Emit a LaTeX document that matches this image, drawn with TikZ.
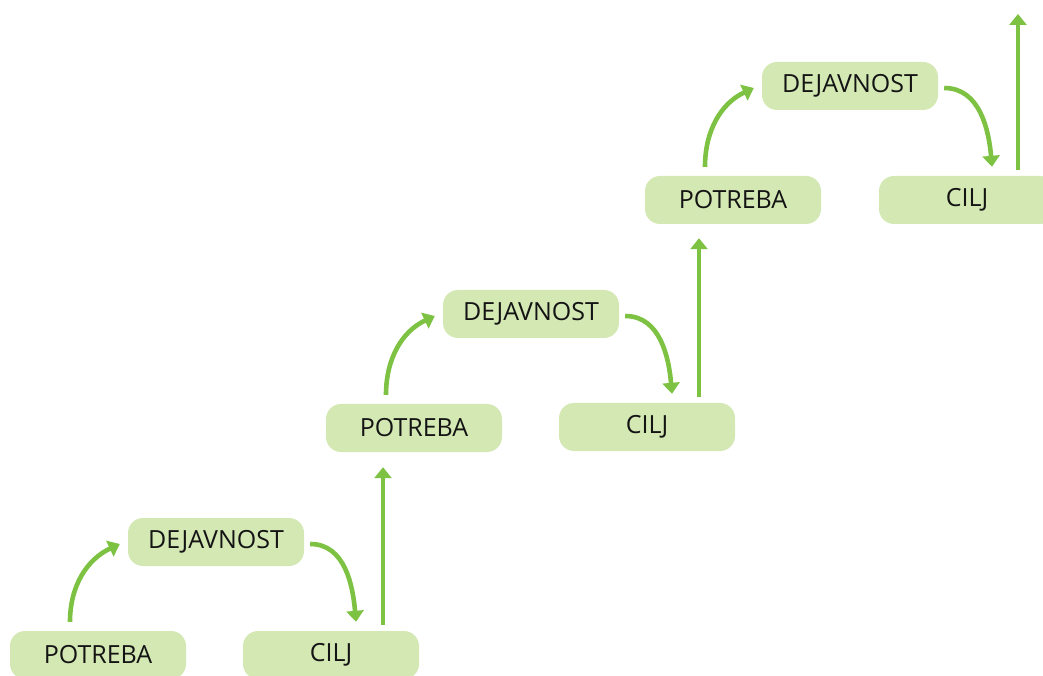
\documentclass[tikz,border=0pt]{standalone}
\usepackage{fontspec}
\setmainfont{Open Sans}
\usetikzlibrary{arrows.meta,calc}
\definecolor{boxfill}{RGB}{212,232,180}
\definecolor{arrowgreen}{RGB}{125,194,66}
\definecolor{ink}{RGB}{20,20,20}
\tikzset{
  stage/.style={fill=boxfill, draw=none, rounded corners=15pt,
    minimum width=176pt, minimum height=48pt, inner sep=0pt,
    font=\fontsize{25}{28}\selectfont, text=ink},
  flow/.style={draw=arrowgreen, line width=4.6pt,
    -{Triangle[length=11pt,width=17pt]}}
}
\begin{document}
\begin{tikzpicture}[x=1pt,y=1pt]
\useasboundingbox (0,0) rectangle (1043,675);
\clip (0,0) rectangle (1043,675);

% first step
\node[stage] (P1) at (98,20)  {POTREBA};
\node[stage] (D1) at (216,133) {DEJAVNOST};
\node[stage] (C1) at (331,20) {CILJ};
% second step
\node[stage] (P2) at (414,247) {POTREBA};
\node[stage] (D2) at (531,361) {DEJAVNOST};
\node[stage] (C2) at (647,248) {CILJ};
% third step
\node[stage] (P3) at (733,475) {POTREBA};
\node[stage] (D3) at (850,589) {DEJAVNOST};
\node[stage] (C3) at (967,475) {CILJ};

\coordinate (top) at (1018,661);

% need -> activity -> goal, then up to the next level
\foreach \p/\d/\c in {P1/D1/C1, P2/D2/C2, P3/D3/C3}{
  \draw[flow] ($(\p.north)+(-28,9)$) to[out=90,in=205] ($(\d.west)+(-8,-2)$);
  \draw[flow] ($(\d.east)+(6,-2)$) to[out=0,in=95] ($(\c.north)+(25,9)$);
}
\draw[flow] ($(C1.north)+(52,6)$) -- ($(C1.north |- P2.south)+(52,-15)$);
\draw[flow] ($(C2.north)+(52,6)$) -- ($(C2.north |- P3.south)+(52,-14)$);
\draw[flow] ($(C3.north)+(51,6)$) -- (top);
\end{tikzpicture}
\end{document}
